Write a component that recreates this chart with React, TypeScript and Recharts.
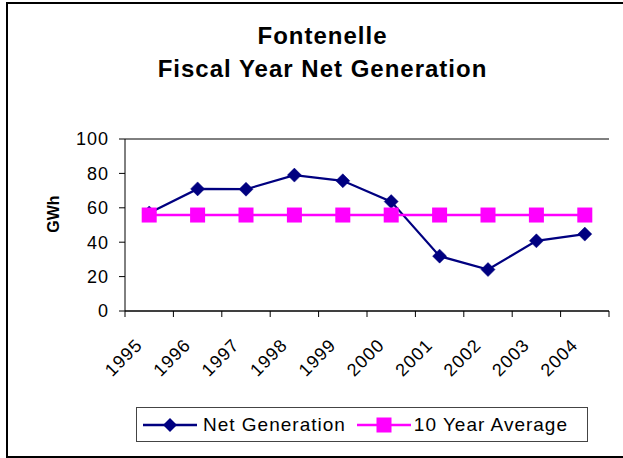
import React from 'react';
import { ComposedChart, Line, XAxis, YAxis, CartesianGrid, Legend } from 'recharts';

const years = ['1995', '1996', '1997', '1998', '1999', '2000', '2001', '2002', '2003', '2004'];
const netGeneration = [57, 71, 70.8, 79, 75.7, 63.6, 31.9, 24.1, 40.8, 44.7];
const tenYearAverage = [55.8, 55.8, 55.8, 55.8, 55.8, 55.8, 55.8, 55.8, 55.8, 55.8];
const yTicks = [0, 20, 40, 60, 80, 100];
const titleLines = ['Fontenelle', 'Fiscal Year Net Generation'];
const yAxisTitle = 'GWh';
const seriesNames = { net: 'Net Generation', avg: '10 Year Average' };
const seriesOrder = ['net', 'avg'];

const data = years.map((year, i) => ({ year, net: netGeneration[i], avg: tenYearAverage[i] }));

const FONT = '"Liberation Sans", Arial, Helvetica, sans-serif';
const NAVY = '#000080';
const PINK = '#FF00FF';

function XTick(props: any) {
  const { x, y, payload, index, visibleTicksCount, width } = props;
  const bw = width && visibleTicksCount ? width / visibleTicksCount : (payload.offset || 24) * 2;
  const left = x - bw / 2;
  const ax = x - 10;
  const ay = y + 31;
  return (
    <g>
      <line x1={left} x2={left} y1={y} y2={y + 6} stroke="#000" strokeWidth={1} />
      {index === visibleTicksCount - 1 && (
        <line x1={x + bw / 2} x2={x + bw / 2} y1={y} y2={y + 6} stroke="#000" strokeWidth={1} />
      )}
      <text
        x={ax}
        y={ay}
        transform={`rotate(-45 ${ax} ${ay})`}
        textAnchor="end"
        dominantBaseline="central"
        fontSize={18}
        fontFamily={FONT}
        letterSpacing={1}
        fill="#000"
      >
        {payload.value}
      </text>
    </g>
  );
}

function DiamondDot(props: any) {
  const { cx, cy, index } = props;
  if (cx == null || cy == null) return <g key={`dn-${index}`} />;
  const r = 7;
  return (
    <path
      key={`d-${index}`}
      d={`M${cx},${cy - r} L${cx + r},${cy} L${cx},${cy + r} L${cx - r},${cy} Z`}
      fill={NAVY}
      stroke={NAVY}
      strokeWidth={0.5}
    />
  );
}

function SquareDot(props: any) {
  const { cx, cy, index } = props;
  if (cx == null || cy == null) return <g key={`sn-${index}`} />;
  const h = 7.5;
  return <rect key={`s-${index}`} x={cx - h} y={cy - h} width={h * 2} height={h * 2} fill={PINK} />;
}

function LegendIcon({ kind }: { kind: string }) {
  const color = kind === 'net' ? NAVY : PINK;
  return (
    <svg width={54} height={20} style={{ display: 'block' }}>
      <line x1={0} x2={54} y1={10} y2={10} stroke={color} strokeWidth={2.5} />
      {kind === 'net' ? (
        <path d="M27,3 L34,10 L27,17 L20,10 Z" fill={NAVY} />
      ) : (
        <rect x={19.5} y={2.5} width={15} height={15} fill={PINK} />
      )}
    </svg>
  );
}

function LegendBox(props: any) {
  const payload = [...(props.payload || [])].sort(
    (a: any, b: any) => seriesOrder.indexOf(a.dataKey) - seriesOrder.indexOf(b.dataKey)
  );
  return (
    <div
      style={{
        boxSizing: 'border-box',
        width: 452,
        height: 35,
        border: '1px solid #444',
        background: '#fff',
        display: 'flex',
        alignItems: 'center',
        paddingLeft: 6,
        fontFamily: FONT,
        fontSize: 19,
        letterSpacing: 1,
        color: '#000',
      }}
    >
      {payload.map((p: any, i: number) => (
        <div key={i} style={{ display: 'flex', alignItems: 'center', marginLeft: i === 0 ? 0 : 11 }}>
          <LegendIcon kind={p.dataKey} />
          <span style={{ marginLeft: i === 0 ? 6 : 3, whiteSpace: 'nowrap' }}>{p.value}</span>
        </div>
      ))}
    </div>
  );
}

export default function App() {
  return (
    <div
      style={{
        position: 'fixed',
        left: 0,
        top: 0,
        width: 623,
        height: 458,
        overflow: 'hidden',
        background: '#fff',
      }}
    >
      <div
        style={{
          position: 'absolute',
          left: 6,
          top: 2,
          width: 660,
          height: 456,
          boxSizing: 'border-box',
          border: '2px solid #000',
        }}
      />
      <div style={{ position: 'absolute', left: 0, top: 0 }}>
        <ComposedChart width={623} height={458} data={data} margin={{ top: 139, right: 14, bottom: 0, left: 0 }}>
          <CartesianGrid horizontal vertical={false} stroke="#000" strokeWidth={1} />
          <XAxis
            dataKey="year"
            type="category"
            scale="band"
            height={147}
            interval={0}
            axisLine={{ stroke: '#000', strokeWidth: 1 }}
            tickLine={false}
            tickSize={0}
            tickMargin={0}
            tick={<XTick />}
          />
          <YAxis
            yAxisId="left"
            width={125}
            domain={[0, 100]}
            ticks={yTicks}
            interval={0}
            axisLine={{ stroke: '#000', strokeWidth: 1 }}
            tickLine={{ stroke: '#000', strokeWidth: 1 }}
            tickSize={6}
            tickMargin={10}
            tick={{ fontSize: 18, fontFamily: FONT, fill: '#000', letterSpacing: 1 }}
            label={{
              content: (lp: any) => {
                const vb = lp.viewBox || { y: 139, height: 172 };
                const cy = vb.y + vb.height / 2 - 11;
                return (
                  <text
                    x={53}
                    y={cy}
                    transform={`rotate(-90 53 ${cy})`}
                    textAnchor="middle"
                    dominantBaseline="central"
                    fontSize={16}
                    fontWeight="bold"
                    fontFamily={FONT}
                    fill="#000"
                  >
                    {yAxisTitle}
                  </text>
                );
              },
            }}
          />
          <YAxis
            yAxisId="right"
            orientation="right"
            width={0}
            domain={[0, 100]}
            ticks={yTicks}
            tick={false}
            tickLine={false}
            axisLine={{ stroke: '#808080', strokeWidth: 2 }}
          />
          <Legend
            layout="horizontal"
            verticalAlign="middle"
            align="center"
            content={<LegendBox />}
            wrapperStyle={{ position: 'absolute', left: 136, top: 407, width: 452, height: 35 }}
          />
          <Line
            yAxisId="left"
            dataKey="net"
            name={seriesNames.net}
            stroke={NAVY}
            strokeWidth={2.25}
            dot={(p: any) => <DiamondDot key={`dd-${p.index}`} {...p} />}
            activeDot={false}
            isAnimationActive={false}
          />
          <Line
            yAxisId="left"
            dataKey="avg"
            name={seriesNames.avg}
            stroke={PINK}
            strokeWidth={2.5}
            dot={(p: any) => <SquareDot key={`sd-${p.index}`} {...p} />}
            activeDot={false}
            isAnimationActive={false}
          />
        </ComposedChart>
      </div>
      <svg width={623} height={100} style={{ position: 'absolute', left: 0, top: 0, pointerEvents: 'none' }}>
        {titleLines.map((t, i) => (
          <text
            key={i}
            x={322.5}
            y={i === 0 ? 44 : 77.3}
            textAnchor="middle"
            fontSize={24}
            fontWeight="bold"
            fontFamily={FONT}
            letterSpacing={1}
            fill="#000"
          >
            {t}
          </text>
        ))}
      </svg>
    </div>
  );
}
